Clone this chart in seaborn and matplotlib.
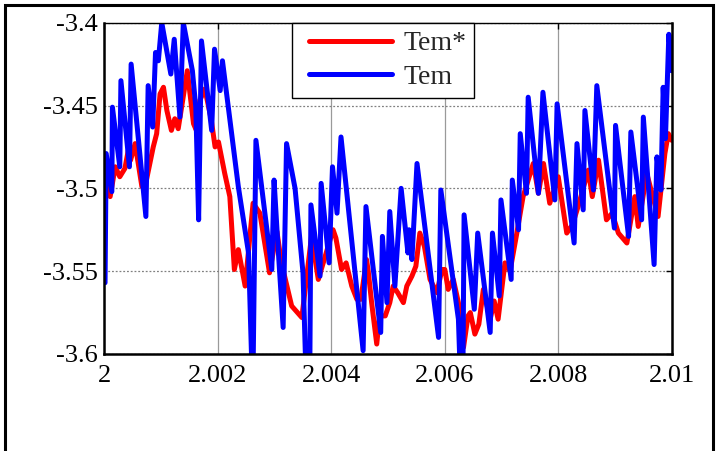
import matplotlib
matplotlib.use("Agg")
import matplotlib.pyplot as plt
import seaborn as sns
import pandas as pd
from matplotlib.patches import Rectangle
from matplotlib.lines import Line2D
from matplotlib.legend_handler import HandlerLine2D

# ---- data ----
t_blue = [2.00001, 2.00003, 2.00013, 2.00014, 2.00027, 2.00029, 2.00044, 2.00047,
          2.00073, 2.00077, 2.00085, 2.00090, 2.00095, 2.00101, 2.00117, 2.00123,
          2.00133, 2.00139, 2.00155, 2.00161, 2.00166, 2.00171, 2.00189, 2.00194,
          2.00204, 2.00208, 2.00236, 2.00254, 2.00260, 2.00262, 2.00267, 2.00295,
          2.00299, 2.00305, 2.00315, 2.00321, 2.00336, 2.00350, 2.00355, 2.00362,
          2.00364, 2.00380, 2.00382, 2.00396, 2.00402, 2.00410, 2.00417, 2.00456,
          2.00461, 2.00487, 2.00490, 2.00498, 2.00503, 2.00512, 2.00523, 2.00535,
          2.00537, 2.00542, 2.00551, 2.00589, 2.00593, 2.00624, 2.00627, 2.00632,
          2.00634, 2.00652, 2.00658, 2.00680, 2.00684, 2.00696, 2.00699,
          2.00717, 2.00719, 2.00730, 2.00733, 2.00744, 2.00747, 2.00765, 2.00773,
          2.00794, 2.00798, 2.00828, 2.00833, 2.00844, 2.00847, 2.00862, 2.00868,
          2.00899, 2.00901, 2.00924, 2.00928, 2.00947, 2.00950, 2.00969, 2.00974,
          2.00981, 2.00985, 2.00989, 2.00995, 2.01000]
y_blue = [-3.557, -3.479, -3.502, -3.451, -3.487, -3.435, -3.487, -3.425,
          -3.517, -3.438, -3.463, -3.418, -3.423, -3.400, -3.431, -3.410,
          -3.457, -3.400, -3.429, -3.451, -3.519, -3.411, -3.465, -3.416,
          -3.441, -3.423, -3.499, -3.539, -3.610, -3.610, -3.471, -3.549,
          -3.495, -3.530, -3.584, -3.473, -3.500, -3.551, -3.610, -3.610,
          -3.510, -3.553, -3.497, -3.545, -3.487, -3.515, -3.469, -3.598,
          -3.511, -3.587, -3.529, -3.569, -3.514, -3.559, -3.500, -3.539,
          -3.525, -3.543, -3.485, -3.590, -3.501, -3.579, -3.610, -3.610,
          -3.516, -3.573, -3.527, -3.587, -3.527, -3.565, -3.507,
          -3.555, -3.495, -3.525, -3.467, -3.503, -3.445, -3.503, -3.442,
          -3.507, -3.449, -3.533, -3.473, -3.513, -3.453, -3.501, -3.438,
          -3.524, -3.462, -3.529, -3.466, -3.519, -3.457, -3.546, -3.481,
          -3.501, -3.439, -3.470, -3.407, -3.429]

t_red = [2.00000, 2.00010, 2.00019, 2.00027, 2.00036, 2.00042, 2.00046, 2.00054,
         2.00066, 2.00074, 2.00086, 2.00092, 2.00098, 2.00104, 2.00110, 2.00118,
         2.00124, 2.00130, 2.00136, 2.00146, 2.00157, 2.00162, 2.00168, 2.00177,
         2.00188, 2.00195, 2.00201, 2.00212, 2.00221, 2.00229, 2.00236, 2.00248,
         2.00262, 2.00274, 2.00291, 2.00304, 2.00312, 2.00330, 2.00348, 2.00365,
         2.00377, 2.00390, 2.00403, 2.00408, 2.00418, 2.00426, 2.00436, 2.00445,
         2.00452, 2.00462, 2.00465, 2.00471, 2.00480, 2.00485, 2.00495, 2.00503,
         2.00509, 2.00517, 2.00527, 2.00533, 2.00542, 2.00549, 2.00556, 2.00564,
         2.00574, 2.00586, 2.00595, 2.00600, 2.00606, 2.00615, 2.00624, 2.00633,
         2.00641, 2.00645, 2.00653, 2.00660, 2.00668, 2.00680, 2.00687, 2.00694,
         2.00706, 2.00715, 2.00727, 2.00738, 2.00756, 2.00765, 2.00774, 2.00785,
         2.00800, 2.00815, 2.00825, 2.00835, 2.00853, 2.00860, 2.00871, 2.00885,
         2.00895, 2.00906, 2.00921, 2.00935, 2.00941, 2.00956, 2.00976, 2.00988,
         2.00994, 2.01000]
y_red = [-3.493, -3.505, -3.487, -3.493, -3.488, -3.477, -3.483, -3.473,
         -3.499, -3.495, -3.475, -3.467, -3.443, -3.439, -3.453, -3.465,
         -3.458, -3.464, -3.451, -3.429, -3.461, -3.465, -3.447, -3.440,
         -3.458, -3.475, -3.472, -3.491, -3.505, -3.549, -3.537, -3.559,
         -3.509, -3.515, -3.551, -3.526, -3.545, -3.571, -3.578, -3.529,
         -3.555, -3.540, -3.525, -3.530, -3.549, -3.545, -3.559, -3.567,
         -3.567, -3.543, -3.550, -3.569, -3.594, -3.577, -3.577, -3.569,
         -3.559, -3.563, -3.569, -3.559, -3.553, -3.547, -3.527, -3.535,
         -3.555, -3.563, -3.549, -3.549, -3.561, -3.555, -3.569, -3.596,
         -3.577, -3.575, -3.588, -3.582, -3.561, -3.579, -3.568, -3.579,
         -3.545, -3.550, -3.527, -3.505, -3.485, -3.503, -3.485, -3.509,
         -3.493, -3.527, -3.522, -3.511, -3.489, -3.505, -3.483, -3.519,
         -3.515, -3.527, -3.533, -3.505, -3.523, -3.491, -3.517, -3.479,
         -3.467, -3.471]

x_ticks = [2.0, 2.002, 2.004, 2.006, 2.008, 2.01]
x_labels = ["2", "2.002", "2.004", "2.006", "2.008", "2.01"]
y_ticks = [-3.6, -3.55, -3.5, -3.45, -3.4]
y_labels = ["-3.6", "-3.55", "-3.5", "-3.45", "-3.4"]
series_names = ["Tem*", "Tem"]
series_colors = ["#ff0000", "#0000ff"]

# ---- style ----
sns.set_style("white")
plt.rcParams["font.family"] = ["Liberation Serif", "DejaVu Serif"]

fig = plt.figure(figsize=(7.2, 4.51), dpi=100)
ax = fig.add_axes([0.1451, 0.2151, 0.7878, 0.7346])

df_red = pd.DataFrame({"t": t_red, "v": y_red})
df_blue = pd.DataFrame({"t": t_blue, "v": y_blue})
sns.lineplot(data=df_red, x="t", y="v", ax=ax, color=series_colors[0],
             lw=3.6, label=series_names[0], estimator=None, sort=False)
sns.lineplot(data=df_blue, x="t", y="v", ax=ax, color=series_colors[1],
             lw=3.6, label=series_names[1], estimator=None, sort=False)

ax.set_xlim(2.0, 2.01)
ax.set_ylim(-3.6, -3.4)
ax.set_xticks(x_ticks)
ax.set_xticklabels(x_labels)
ax.set_yticks(y_ticks)
ax.set_yticklabels(y_labels)
ax.set_xlabel("")
ax.set_ylabel("")

ax.tick_params(direction="in", top=True, right=True, length=4, width=1,
               labelsize=19, colors="black")
ax.tick_params(axis="x", pad=8)
ax.tick_params(axis="y", pad=5)

ax.xaxis.grid(True, linestyle="-", color="#9a9a9a", lw=0.9)
ax.yaxis.grid(True, linestyle=(0, (1.5, 1.5)), color="#808080", lw=0.9)
ax.set_axisbelow(True)

for side in ["left", "bottom", "right"]:
    ax.spines[side].set_linewidth(1.8)
    ax.spines[side].set_color("black")
ax.spines["top"].set_linewidth(1.0)
ax.spines["top"].set_color("black")

leg = ax.legend(loc="upper left", bbox_to_anchor=(0.3306, 1.0),
                borderaxespad=0, fontsize=20, handlelength=3.3,
                handletextpad=0.4, labelspacing=0.28, borderpad=0.3,
                fancybox=False, framealpha=1, edgecolor="black",
                handler_map={Line2D: HandlerLine2D(xpad=0.3)})
leg.get_frame().set_linewidth(1.0)
for h in leg.get_lines():
    h.set_linewidth(3.6)

# outer figure frame
fig.patches.append(Rectangle((5 / 720, -0.1), 708 / 720, 1.1 - 5 / 451,
                             transform=fig.transFigure, fill=False,
                             edgecolor="black", lw=2.2, zorder=10))

fig.savefig("out.png", dpi=100)
